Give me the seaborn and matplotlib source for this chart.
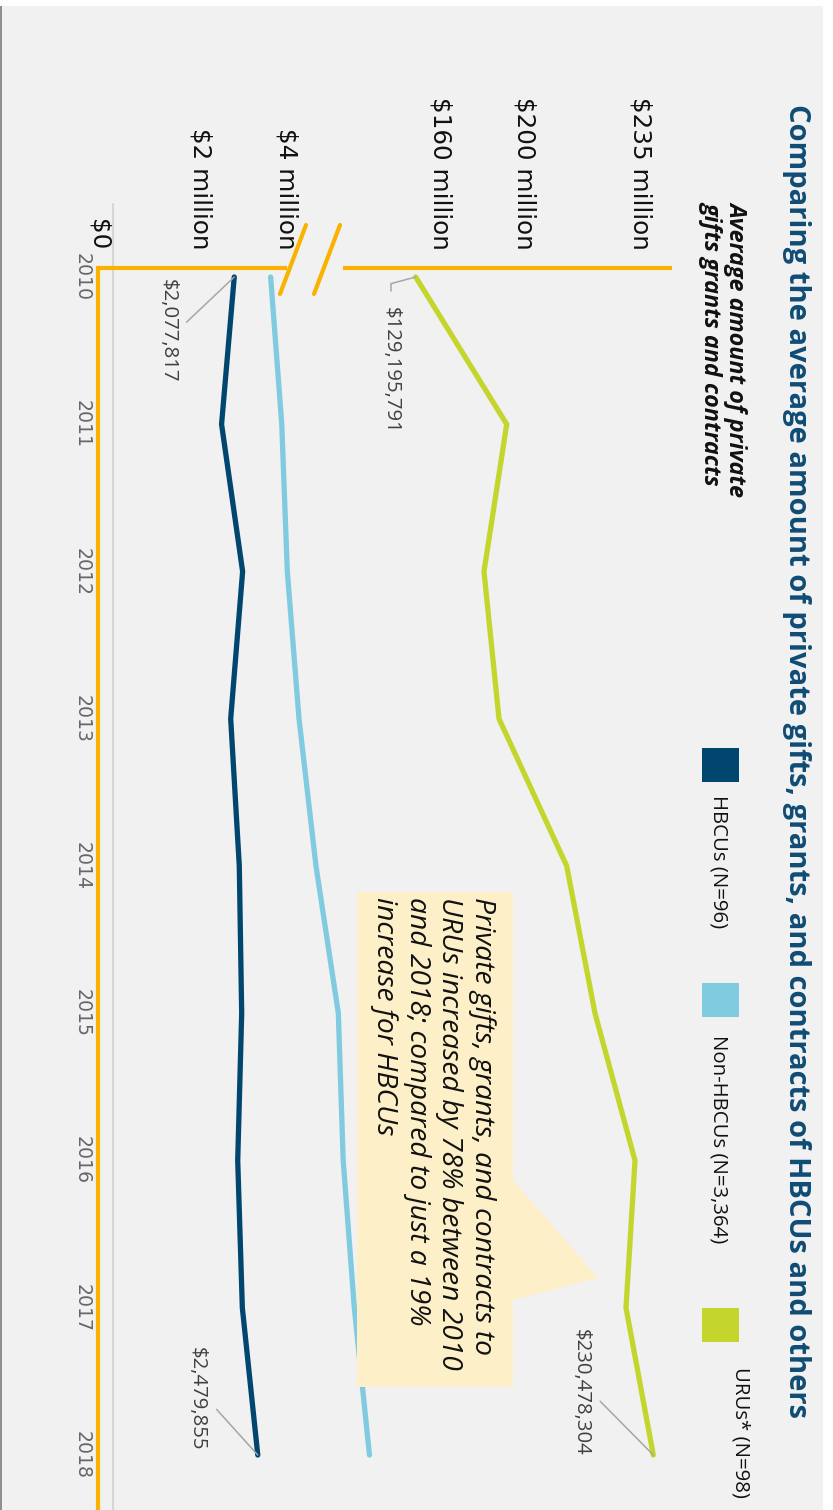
import numpy as np
import pandas as pd
import seaborn as sns
import matplotlib.pyplot as plt
from matplotlib.patches import Rectangle, Polygon

# ---------------- data ----------------
years = [2010, 2011, 2012, 2013, 2014, 2015, 2016, 2017, 2018]
hbcu_values = [2077817, 1861000, 2221000, 2017000, 2164000, 2205000, 2137000, 2216000, 2479855]
non_hbcu_values = [2700000, 2890000, 2985000, 3185000, 3475000, 3857000, 3940000, 4130000, 4389000]
uru_values = [129195791, 167990000, 158310000, 164710000, 193560000, 205630000, 222680000, 218840000, 230478304]

series_labels = ["HBCUs (N=96)", "Non-HBCUs (N=3,364)", "URUs* (N=98)"]
low_tick_labels = ["$0", "$2 million", "$4 million"]
high_tick_labels = ["$160 million", "$200 million", "$235 million"]
year_labels = [str(y) for y in years]

title = "Comparing the average amount of private gifts, grants, and contracts of HBCUs and others"
subtitle = "Average amount of private\ngifts grants and contracts"
note = ("Private gifts, grants, and contracts to\nURUs increased by 78% between 2010\n"
        "and 2018; compared to just a 19%\nincrease for HBCUs")

# ---------------- style ----------------
C_HBCU = "#00466f"
C_NON = "#80cbe0"
C_URU = "#c4d62e"
ORANGE = "#f9b200"
TITLE_C = "#0f4c75"
BG = "#f1f1f1"

sns.set_theme(style="white")
plt.rcParams["font.family"] = ["Open Sans", "DejaVu Sans"]

W, H = 833, 1510
fig = plt.figure(figsize=(W / 100, H / 100), dpi=100, facecolor=BG)


def fx(px):
    return px / W


def fy(py):
    return 1 - py / H


# axes area (portrait; years run downward, values to the right)
AX_L, AX_R, AX_T = 98, 672, 268
ax = fig.add_axes([fx(AX_L), 0, (AX_R - AX_L) / W, (H - AX_T) / H])
ax.set_facecolor("none")
ax_hi = ax.twiny()
ax_hi.set_facecolor("none")

# value scales: lower segment (HBCU / non-HBCU) and upper segment (URUs)
LOW_LIM = ((AX_L - 112.7) / 58.5 * 1e6, (AX_R - 112.7) / 58.5 * 1e6)
HI_LIM = ((129.196 - (415.7 - AX_L) / 2.3459) * 1e6, (129.196 + (AX_R - 415.7) / 2.3459) * 1e6)

lw = 3.8
sns.lineplot(x=hbcu_values, y=years, ax=ax, orient="y", color=C_HBCU, linewidth=lw,
             solid_capstyle="round", solid_joinstyle="miter", zorder=3)
sns.lineplot(x=non_hbcu_values, y=years, ax=ax, orient="y", color=C_NON, linewidth=lw,
             solid_capstyle="round", solid_joinstyle="miter", zorder=3)
sns.lineplot(x=uru_values, y=years, ax=ax_hi, orient="y", color=C_URU, linewidth=lw,
             solid_capstyle="round", solid_joinstyle="miter", zorder=3)

ax.set_xlim(*LOW_LIM)
ax_hi.set_xlim(*HI_LIM)
ax.set_ylim(2018 + (H - 1455) / 147.25, 2010 - (277 - AX_T) / 147.25)
for a in (ax, ax_hi):
    a.set_xlabel("")
    a.set_ylabel("")
    for s in a.spines.values():
        s.set_visible(False)
    a.grid(False)

ax.spines["left"].set_visible(True)
ax.spines["left"].set_color(ORANGE)
ax.spines["left"].set_linewidth(3)

# tick labels (placed as in the infographic)
span = AX_R - AX_L
low_frac = [0.0, (200 - AX_L) / span, (287 - AX_L) / span]
high_frac = [(440 - AX_L) / span, (525 - AX_L) / span, (641 - AX_L) / span]
ax.xaxis.set_ticks_position("top")
ax.xaxis.set_label_position("top")
ax.set_xticks([LOW_LIM[0] + f * (LOW_LIM[1] - LOW_LIM[0]) for f in low_frac], labels=low_tick_labels)
ax_hi.set_xticks([HI_LIM[0] + f * (HI_LIM[1] - HI_LIM[0]) for f in high_frac], labels=high_tick_labels)
for a in (ax, ax_hi):
    a.tick_params(axis="x", length=0, pad=13, labelsize=17.7, labelrotation=-90, labelcolor="#111111")
    plt.setp(a.get_xticklabels(), family="DejaVu Sans")

ax.set_yticks(years, labels=year_labels)
ax.tick_params(axis="y", length=0, pad=4.5, labelsize=13.6, labelrotation=-90, labelcolor="#666666")
plt.setp(ax.get_yticklabels(), family="DejaVu Sans", va="center")

# axis line on top with break marks
top_y = 1.0
ax.plot([0, (287 - AX_L) / span], [top_y, top_y], transform=ax.transAxes, color=ORANGE, lw=3,
        clip_on=False, solid_capstyle="butt", zorder=4)
ax.plot([(343 - AX_L) / span, 1], [top_y, top_y], transform=ax.transAxes, color=ORANGE, lw=3,
        clip_on=False, solid_capstyle="butt", zorder=4)
axh = H - AX_T
for x1, x2 in [(306, 280), (340, 314)]:
    ax.plot([(x1 - AX_L) / span, (x2 - AX_L) / span], [(H - 225) / axh, (H - 294) / axh],
            transform=ax.transAxes, color=ORANGE, lw=3, clip_on=False, zorder=4)

# zero gridline
ax.axvline(0, ymin=0, ymax=(H - 204) / axh, color="#d6d6d6", lw=1.5, clip_on=False, zorder=1)

# value callouts
lab_kw = dict(textcoords="offset pixels", rotation=-90, ha="center", va="center",
              fontsize=14.7, color="#404040", zorder=4)
ax.annotate(f"${hbcu_values[0]:,}", xy=(hbcu_values[0], years[0]), xytext=(-67, -54),
            arrowprops=dict(arrowstyle="-", color="#a6a6a6", lw=1.1, relpos=(1, 0.5),
                            shrinkA=6, shrinkB=0), **lab_kw)
ax.annotate(f"${hbcu_values[-1]:,}", xy=(hbcu_values[-1], years[-1]), xytext=(-61, 56.5),
            arrowprops=dict(arrowstyle="-", color="#a6a6a6", lw=1.1, relpos=(1, 0.5),
                            shrinkA=7, shrinkB=0), **lab_kw)
ax_hi.annotate(f"${uru_values[0]:,}", xy=(uru_values[0], years[0]), xytext=(-24.7, -93.3),
               arrowprops=dict(arrowstyle="-", color="#a6a6a6", lw=1.1, relpos=(0.5, 1),
                               connectionstyle="angle,angleA=90,angleB=15,rad=0",
                               shrinkA=9, shrinkB=0), **lab_kw)
ax_hi.annotate(f"${uru_values[-1]:,}", xy=(uru_values[-1], years[-1]), xytext=(-72.3, 63),
               arrowprops=dict(arrowstyle="-", color="#a6a6a6", lw=1.1, relpos=(1, 0.5),
                               shrinkA=6, shrinkB=0), **lab_kw)

# callout box
box = [(357, 892), (513, 892), (513, 1180), (598, 1278), (513, 1300), (513, 1387), (357, 1387)]
fig.add_artist(Polygon([(fx(x), fy(y)) for x, y in box], closed=True, transform=fig.transFigure,
                       fc="#fdefc8", ec="none", zorder=5))
fig.text(fx(433), fy(897), note, rotation=-90, ha="center", va="top", multialignment="left",
         fontsize=20.3, style="italic", color="#111111", linespacing=1.22, zorder=6)

# title & subtitle
fig.text(fx(796), fy(104), title, rotation=-90, ha="center", va="top", fontsize=21,
         fontweight="bold", color=TITLE_C)
fig.text(fx(724), fy(201), subtitle, rotation=-90, ha="center", va="top", multialignment="left",
         fontsize=16.8, fontweight="bold", style="italic", color="#111111", linespacing=1.08)

# legend
colors = [C_HBCU, C_NON, C_URU]
sq_y = [748, 983, 1308]
lab_pos = [(718, 795), (718, 1035), (741, 1367)]
for c, y0, lab, (lx, ly) in zip(colors, sq_y, series_labels, lab_pos):
    fig.add_artist(Rectangle((fx(702), fy(y0 + 34)), 37 / W, 34 / H, transform=fig.transFigure,
                             fc=c, ec="none"))
    fig.text(fx(lx), fy(ly), lab, rotation=-90, ha="center", va="top", fontsize=14.7,
             color="#111111")

# page borders
fig.add_artist(Rectangle((0, fy(6)), 1, 6 / H, transform=fig.transFigure, fc="white", ec="none"))
fig.add_artist(Rectangle((fx(823), 0), 10 / W, 1, transform=fig.transFigure, fc="white", ec="none"))
fig.add_artist(Rectangle((0, 0), 2 / W, fy(6), transform=fig.transFigure, fc="#8f8f8f", ec="none"))

fig.savefig("out.png", dpi=100, facecolor=fig.get_facecolor())
